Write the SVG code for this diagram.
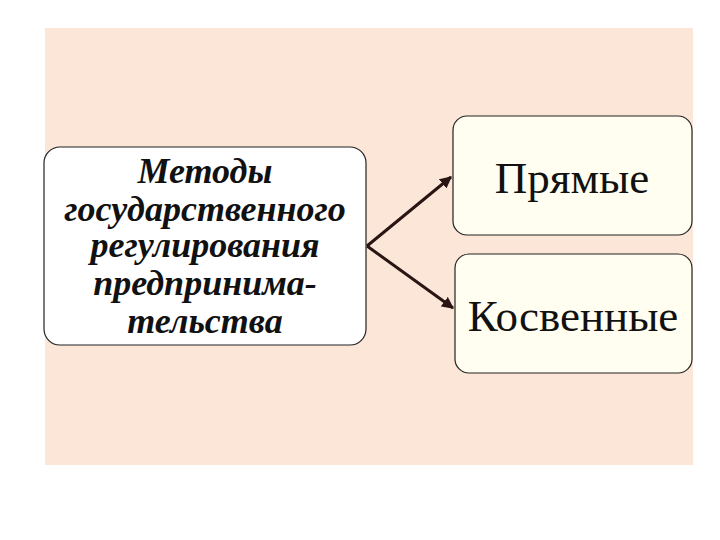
<svg xmlns="http://www.w3.org/2000/svg" width="720" height="540" viewBox="0 0 720 540">
<style>
.box{stroke:#222;stroke-width:1.2}
.lt{font-family:'Liberation Serif','Times New Roman','DejaVu Serif',serif;font-weight:bold;font-style:italic;font-size:36px;fill:#111;text-anchor:middle}
.rt{font-family:'Liberation Serif','Times New Roman','DejaVu Serif',serif;font-size:45px;fill:#111;text-anchor:middle}
.con{stroke:#2a1414;stroke-width:3;fill:none;marker-end:url(#ah)}
</style>
<defs>
<marker id="ah" viewBox="0 0 10 10" refX="9" refY="5" markerWidth="4" markerHeight="4" orient="auto" markerUnits="strokeWidth">
<path d="M0,0 L10,5 L0,10 z" fill="#2a1414"/>
</marker>
</defs>
<rect x="0" y="0" width="720" height="540" fill="#ffffff"/>
<rect x="45" y="28" width="648" height="437" fill="#fce6d8"/>
<g id="methods">
<rect class="box" x="44" y="147" width="322" height="198" rx="16" fill="#ffffff"/>
<text class="lt" x="205" y="183">Методы</text>
<text class="lt" x="205" y="221">государственного</text>
<text class="lt" x="205" y="257">регулирования</text>
<text class="lt" x="205" y="295">предпринима-</text>
<text class="lt" x="205" y="333">тельства</text>
</g>
<g id="direct">
<rect class="box" x="453" y="116" width="239" height="119" rx="14" fill="#fffef0"/>
<text class="rt" x="572" y="193">Прямые</text>
</g>
<g id="indirect">
<rect class="box" x="455" y="254" width="237" height="119" rx="14" fill="#fffef0"/>
<text class="rt" x="573" y="331">Косвенные</text>
</g>
<g id="connectors">
<path class="con" d="M367,246 L451,177"/>
<path class="con" d="M367,246 L453,308"/>
</g>
</svg>
